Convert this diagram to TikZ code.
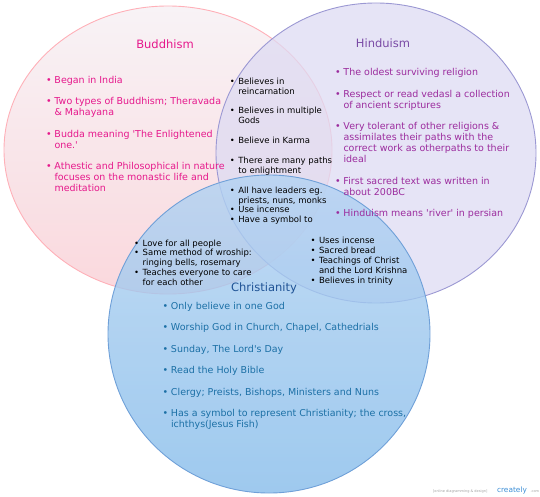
\documentclass[tikz,border=0pt]{standalone}
\usepackage{fontspec}
\setmainfont{DejaVu Sans}
\definecolor{budfillA}{HTML}{F8F3F6}
\definecolor{budfillB}{HTML}{FAD8DD}
\definecolor{budline}{HTML}{FFB0B8}
\definecolor{hinfill}{HTML}{DEDBF3}
\definecolor{hinline}{HTML}{9B98D3}
\definecolor{chrfillA}{HTML}{B2D2F2}
\definecolor{chrfillB}{HTML}{86BCEA}
\definecolor{chrline}{HTML}{6FA0D8}
\definecolor{budtxt}{HTML}{E6198C}
\definecolor{hintitle}{HTML}{7A4BA6}
\definecolor{hintxt}{HTML}{9B2C9E}
\definecolor{chrtitle}{HTML}{1F5395}
\definecolor{chrtxt}{HTML}{1C70A6}
\definecolor{wmgray}{HTML}{A0A0A0}
\definecolor{wmblue}{HTML}{3D8FD6}
\newlength\bw
\setlength\bw{8.5pt}
\newcommand\itm{\makebox[\bw][l]{•}}
\newcommand\cnt{\hspace*{\bw}}
\newcommand\q{\textquotesingle}
\tikzset{
  txt/.style={anchor=base west, inner sep=0pt, outer sep=0pt},
  ttl/.style={anchor=base, inner sep=0pt, outer sep=0pt, font=\fontsize{11.5}{13}\selectfont},
  circ/.style={line width=0.9pt}
}
\begin{document}
\begin{tikzpicture}[x=1pt,y=-1pt]
\useasboundingbox (0,0) rectangle (540,497);
% circles
\shade[circ, top color=budfillA, bottom color=budfillB, draw=budline] (168,150) ellipse [x radius=164pt, y radius=144pt];
\path[circ, fill=hinfill, fill opacity=0.75, draw=hinline] (376,153) ellipse [x radius=160pt, y radius=150pt];
\shade[circ, top color=chrfillA, bottom color=chrfillB, fill opacity=0.8, draw=chrline] (269,334) ellipse [x radius=161pt, y radius=159pt];
% titles
\node[ttl, text=budtxt] (budtitle) at (165,49) {Buddhism};
\node[ttl, text=hintitle] (hintitle) at (383,47.3) {Hinduism};
\node[ttl, text=chrtitle] (chrtitle) at (264,291.5) {Christianity};
% Buddhism list
\node[txt, text=budtxt] (budlist) at (46,83.3) {\parbox[t]{280pt}{\fontsize{9.5}{11}\selectfont\raggedright
\itm Began in India\\[10.5pt]
\itm Two types of Buddhism; Theravada\\
\cnt\& Mahayana\\[10.5pt]
\itm Budda meaning \q The Enlightened\\
\cnt one.\q\\[10.5pt]
\itm Athestic and Philosophical in nature\\
\cnt focuses on the monastic life and\\
\cnt meditation}};
% Hinduism list
\node[txt, text=hintxt] (hinlist) at (335,76) {\parbox[t]{280pt}{\fontsize{9.5}{11}\selectfont\raggedright
\itm The oldest surviving religion\\[10.5pt]
\itm Respect or read vedasl a collection\\
\cnt of ancient scriptures\\[10.5pt]
\itm Very tolerant of other religions \&\\
\cnt assimilates their paths with the\\
\cnt correct work as otherpaths to their\\
\cnt ideal\\[10.5pt]
\itm First sacred text was written in\\
\cnt about 200BC\\[10.5pt]
\itm Hinduism means \q river\q{} in persian}};
% Buddhism & Hinduism
\node[txt, text=black] (bhlist) at (229.8,84.5) {\parbox[t]{200pt}{\fontsize{8.5}{10}\selectfont\raggedright
\itm Believes in\\
\cnt reincarnation\\[9.5pt]
\itm Believes in multiple\\
\cnt Gods\\[9.8pt]
\itm Believe in Karma\\[9.8pt]
\itm There are many paths\\
\cnt to enlightment\\[9.8pt]
\itm All have leaders eg.\\
\cnt priests, nuns, monks\\[-0.5pt]
\itm Use incense\\[-0.3pt]
\itm Have a symbol to}};
% Buddhism & Christianity
\node[txt, text=black] (bclist) at (134.2,246) {\parbox[t]{200pt}{\fontsize{8.5}{9.9}\selectfont\raggedright
\itm Love for all people\\
\itm Same method of wroship:\\
\cnt ringing bells, rosemary\\
\itm Teaches everyone to care\\
\cnt for each other}};
% Hinduism & Christianity
\node[txt, text=black] (hclist) at (310.5,243.5) {\parbox[t]{200pt}{\fontsize{8.5}{10}\selectfont\raggedright
\itm Uses incense\\
\itm Sacred bread\\
\itm Teachings of Christ\\
\cnt and the Lord Krishna\\
\itm Believes in trinity}};
% Christianity list
\node[txt, text=chrtxt] (chrlist) at (162.5,309) {\parbox[t]{300pt}{\fontsize{9.5}{11}\selectfont\raggedright
\itm Only believe in one God\\[10.5pt]
\itm Worship God in Church, Chapel, Cathedrials\\[10.5pt]
\itm Sunday, The Lord\q s Day\\[10.5pt]
\itm Read the Holy Bible\\[10.5pt]
\itm Clergy; Preists, Bishops, Ministers and Nuns\\[10.5pt]
\itm Has a symbol to represent Christianity; the cross,\\
\cnt ichthys(Jesus Fish)}};
% watermark
\node[txt, text=wmgray, font=\fontsize{3.5}{4}\selectfont] (wm1) at (433,492) {[online diagramming \& design]};
\node[txt, text=wmblue, font=\fontsize{7.4}{8}\selectfont] (wm2) at (497,492) {creately};
\node[txt, text=wmgray, font=\fontsize{3.5}{4}\selectfont] (wm3) at (530.5,492) {.com};
\end{tikzpicture}
\end{document}
